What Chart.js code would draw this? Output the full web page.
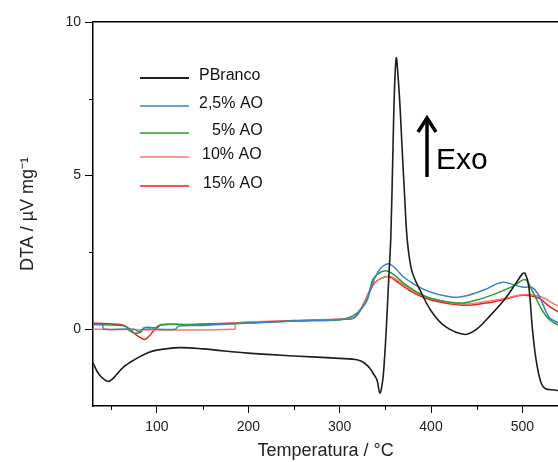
<!DOCTYPE html>
<html>
<head>
<meta charset="utf-8">
<script src="https://cdn.jsdelivr.net/npm/chart.js@4.4.1/dist/chart.umd.min.js"></script>
<style>
html, body { margin: 0; padding: 0; background: #fff; }
</style>
</head>
<body>
<canvas id="chartDTA" width="558" height="462"></canvas>
<script>

// ================= DATI =================

const etichette = ["PBranco", "2,5% AO", "5% AO", "10% AO", "15% AO"];
const colori = ["#1e1e1e", "#3b82c4", "#2e9a35", "#f57a6a", "#ec1c1c"];

const tickX = [100, 200, 300, 400, 500];
const tickXMinori = [50, 150, 250, 350, 450];
const tickY = [0, 5, 10];
const tickYMinori = [-2.5, 2.5, 7.5];

const tempPBranco = [30, 35, 40, 47, 52, 63, 75, 90, 100, 125, 150, 200, 250, 300, 320, 327, 333, 338, 341, 344, 347, 349, 351, 354, 356, 358, 360, 362, 364, 366, 368, 371, 374, 379, 388, 400, 415, 437, 450, 465, 480, 492, 500, 503, 507, 511, 515, 520, 525, 535, 540];
const dtaPBranco = [-1.1, -1.4, -1.58, -1.7, -1.6, -1.24, -1.0, -0.77, -0.68, -0.6, -0.64, -0.78, -0.87, -0.95, -1.0, -1.1, -1.27, -1.5, -1.66, -2.08, -1.7, -1.0, 0.0, 1.8, 3.0, 5.4, 7.8, 8.83, 8.2, 7.3, 6.1, 4.4, 2.9, 1.9, 1.27, 0.6, 0.1, -0.17, 0.0, 0.45, 0.95, 1.45, 1.8, 1.82, 1.4, 0.0, -1.0, -1.7, -1.93, -1.98, -2.0];

const temp25 = [30, 40, 42, 75, 80, 85, 120, 124, 150, 200, 250, 290, 305, 315, 322, 328, 334, 339, 344, 350, 355, 362, 370, 385, 400, 424, 440, 460, 470, 479, 490, 500, 511, 518, 524, 530, 540];
const dta25 = [0.15, 0.15, 0, 0, -0.08, 0, 0, 0.1, 0.12, 0.2, 0.27, 0.3, 0.32, 0.35, 0.6, 0.85, 1.3, 1.7, 1.95, 2.1, 2.12, 1.95, 1.7, 1.4, 1.2, 1.04, 1.1, 1.3, 1.45, 1.53, 1.45, 1.37, 1.35, 1.1, 0.7, 0.36, 0.2];

const temp5 = [30, 65, 70, 75, 82, 86, 100, 105, 140, 200, 250, 300, 312, 320, 330, 336, 342, 350, 358, 370, 385, 400, 432, 450, 470, 490, 503, 510, 516, 522, 530, 540];
const dta5 = [0.15, 0.1, -0.05, -0.13, -0.1, 0.05, 0.05, 0.15, 0.15, 0.2, 0.27, 0.3, 0.4, 0.55, 0.94, 1.6, 1.8, 1.9, 1.8, 1.5, 1.2, 1.0, 0.85, 0.95, 1.15, 1.4, 1.62, 1.3, 0.94, 0.6, 0.3, 0.12];

const temp10 = [30, 185, 186, 250, 300, 312, 320, 328, 335, 342, 350, 356, 365, 380, 400, 435, 460, 480, 500, 515, 525, 533, 540];
const dta10 = [0, 0, 0.2, 0.27, 0.32, 0.35, 0.5, 0.95, 1.4, 1.6, 1.7, 1.72, 1.55, 1.25, 1.0, 0.82, 0.9, 1.0, 1.12, 1.1, 1.0, 0.85, 0.75];

const temp15 = [30, 60, 68, 78, 87, 95, 103, 140, 200, 250, 300, 312, 319, 328, 334, 339, 347, 355, 365, 380, 400, 435, 460, 480, 497, 510, 519, 527, 533, 540];
const dta15 = [0.2, 0.15, 0.05, -0.2, -0.33, -0.1, 0.13, 0.15, 0.22, 0.28, 0.32, 0.35, 0.45, 0.94, 1.3, 1.53, 1.68, 1.7, 1.5, 1.2, 0.95, 0.78, 0.85, 0.97, 1.1, 1.08, 1.0, 0.8, 0.68, 0.55];

const serieTemp = [tempPBranco, temp25, temp5, temp10, temp15];
const serieDTA = [dtaPBranco, dta25, dta5, dta10, dta15];

// ================= PLUGIN =================

// tacchette minori, legenda interna e freccia "Exo"
const decorazioni = {

    id: "decorazioni",

    afterDraw(chart) {

        const { ctx, chartArea, scales } = chart;

        ctx.save();

        ctx.strokeStyle = "#000";
        ctx.lineWidth = 1;

        tickXMinori.forEach(v => {
            const px = Math.round(scales.x.getPixelForValue(v)) + 0.5;
            ctx.beginPath();
            ctx.moveTo(px, chartArea.bottom);
            ctx.lineTo(px, chartArea.bottom + 4);
            ctx.stroke();
        });

        tickYMinori.forEach(v => {
            const py = Math.round(scales.y.getPixelForValue(v)) + 0.5;
            if (py > chartArea.bottom - 1) return;
            ctx.beginPath();
            ctx.moveTo(chartArea.left, py);
            ctx.lineTo(chartArea.left - 4, py);
            ctx.stroke();
        });

        // legenda
        const righe = [78, 106, 133, 157, 186];
        const xTesto = [199, 199, 212, 202, 203];

        ctx.font = "16px 'Liberation Sans', Arial, sans-serif";
        ctx.textBaseline = "middle";
        ctx.fillStyle = "#111";

        chart.data.datasets.forEach((ds, i) => {
            ctx.strokeStyle = ds.borderColor;
            ctx.lineWidth = i === 0 ? 2 : 1.5;
            ctx.beginPath();
            ctx.moveTo(140, righe[i]);
            ctx.lineTo(189, righe[i]);
            ctx.stroke();
            ctx.fillText(ds.label, xTesto[i], righe[i] - 2);
        });

        // freccia Exo
        ctx.strokeStyle = "#000";
        ctx.lineWidth = 3.5;
        ctx.beginPath();
        ctx.moveTo(427, 177);
        ctx.lineTo(427, 118);
        ctx.stroke();
        ctx.beginPath();
        ctx.moveTo(418, 132);
        ctx.lineTo(427, 118);
        ctx.lineTo(436, 132);
        ctx.stroke();

        ctx.font = "30px 'Liberation Sans', Arial, sans-serif";
        ctx.textBaseline = "alphabetic";
        ctx.fillStyle = "#000";
        ctx.fillText("Exo", 436, 169);

        ctx.restore();

    }

};

// ================= GRAFICO =================

Chart.defaults.font.family = "'Liberation Sans', Arial, sans-serif";
Chart.defaults.color = "#222";

const datasets = etichette.map((nome, i) => ({
    label: nome,
    data: serieTemp[i].map((t, j) => ({ x: t, y: serieDTA[i][j] })),
    borderColor: colori[i],
    borderWidth: i === 0 ? 1.6 : 1.5,
    pointRadius: 0,
    tension: 0.35,
    fill: false
}));

new Chart(document.getElementById("chartDTA").getContext("2d"), {

    type: "line",

    data: { datasets },

    plugins: [decorazioni],

    options: {

        responsive: false,
        animation: false,

        layout: { padding: { top: 22, right: 0, left: 0, bottom: 0 } },

        plugins: {
            legend: { display: false },
            tooltip: { enabled: false }
        },

        scales: {

            x: {
                type: "linear",
                min: 30,
                max: 539,
                afterBuildTicks: s => { s.ticks = tickX.map(v => ({ value: v })); },
                afterFit: s => { s.height = 56; },
                ticks: { font: { size: 14 }, padding: 6, color: "#222", maxRotation: 0 },
                grid: { drawOnChartArea: false, drawTicks: true, tickLength: 7, tickColor: "#000", tickWidth: 1 },
                border: { color: "#000", width: 1.5 },
                title: {
                    display: true,
                    text: "Temperatura / °C",
                    font: { size: 18 },
                    color: "#222",
                    padding: { top: 0, bottom: 0 }
                }
            },

            xTop: {
                type: "linear",
                position: "top",
                min: 30,
                max: 539,
                afterFit: s => { s.height = 0; },
                ticks: { display: false },
                grid: { drawOnChartArea: false, drawTicks: false },
                border: { color: "#000", width: 1.5 }
            },

            y: {
                min: -2.5,
                max: 10,
                afterBuildTicks: s => { s.ticks = tickY.map(v => ({ value: v })); },
                afterFit: s => { s.width = 93; },
                ticks: { font: { size: 14 }, padding: 4, color: "#222" },
                grid: { drawOnChartArea: false, drawTicks: true, tickLength: 8, tickColor: "#000", tickWidth: 1 },
                border: { color: "#000", width: 1.5 },
                title: {
                    display: true,
                    text: "DTA / µV mg⁻¹",
                    font: { size: 18 },
                    color: "#222",
                    padding: { top: 17, bottom: 0 }
                }
            }

        }

    }

});

</script>
</body>
</html>
